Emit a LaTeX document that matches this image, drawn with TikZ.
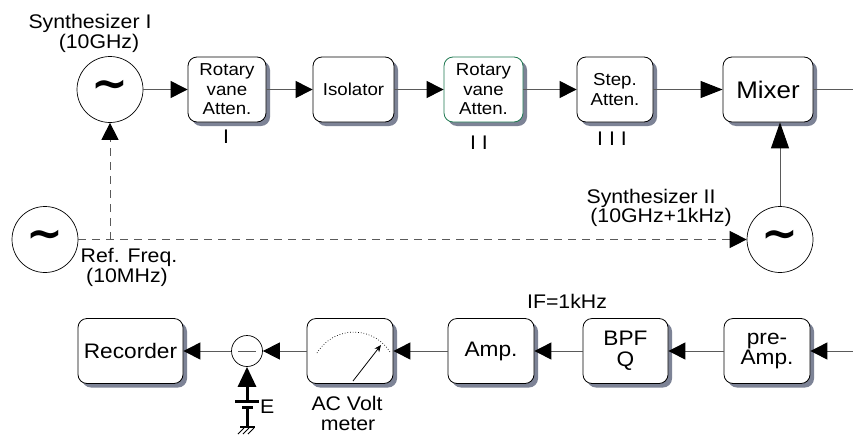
\documentclass[tikz,border=0pt]{standalone}
\usepackage{fontspec}
\setmainfont{Liberation Sans}[FakeStretch=1.08]
\newfontfamily\tildefont{DejaVu Sans}
\usetikzlibrary{arrows.meta,shadows,calc}
\definecolor{shadowc}{RGB}{125,131,150}
\definecolor{wire}{RGB}{90,90,90}
\definecolor{greenb}{RGB}{30,120,80}
\begin{document}
\begin{tikzpicture}[x=1pt,y=-1pt,
  box/.style={draw=black, line width=0.8pt, rounded corners=9pt, fill=white, align=center,
    inner sep=0pt, minimum height=65pt,
    drop shadow={shadow xshift=4pt, shadow yshift=-4pt, fill=shadowc, opacity=1},
    font=\fontsize{17.3}{19.5}\selectfont},
  bbox/.style={box, font=\fontsize{21}{20.5}\selectfont},
  osc/.style={draw, circle, line width=0.7pt, minimum size=66pt, inner sep=0pt,
    font=\tildefont\bfseries\fontsize{44}{44}\selectfont},
  lbl/.style={font=\fontsize{19.7}{21}\selectfont, inner sep=0pt, anchor=base},
  wire/.style={draw=wire, line width=1pt},
  wirearrow/.style={wire, -{Triangle[length=17pt,width=17pt,color=black,fill=black]}},
  longarrow/.style={wire, -{Triangle[length=22pt,width=17pt,color=black,fill=black]}},
  dashwire/.style={wirearrow, dash pattern=on 8pt off 6pt},
]
\useasboundingbox[fill=white] (0,0) rectangle (853,434);

% top row
\node[osc] (syn1) at (110,89.5) {\textasciitilde};
\node[lbl] (t1) at (90,28) {Synthesizer I};
\node[lbl] (t2) at (99,48) {(10GHz)};
\node[box, minimum width=78pt] (rv1) at (227,89.5) {Rotary\\vane\\Atten.};
\node[lbl] (n1) at (226,143) {I};
\node[box, minimum width=81pt] (iso) at (353.5,89.5) {Isolator};
\node[box, draw=greenb, minimum width=79pt] (rv2) at (483.5,89.5) {Rotary\\vane\\Atten.};
\node[lbl] (n2) at (479,149) {I I};
\node[box, minimum width=76pt] (stp) at (615,89.5) {Step.\\Atten.};
\node[lbl] (n3) at (612,145) {I I I};
\node[box, minimum width=90pt, font=\fontsize{24}{25}\selectfont] (mix) at (768,89.5) {Mixer};
\coordinate (mixout) at (853,89.5);

% synthesizer II and reference
\node[osc] (syn2) at (780,239.5) {\textasciitilde};
\node[lbl] (t3) at (651,203) {Synthesizer II};
\node[lbl] (t4) at (661,222) {(10GHz+1kHz)};
\node[osc] (ref) at (45,239.5) {\textasciitilde};
\node[lbl] (t5) at (129,262) {Ref. Freq.};
\node[lbl] (t6) at (127,282) {(10MHz)};

% bottom row
\coordinate (inR) at (853,351);
\node[bbox, minimum width=86pt] (pre) at (767,351) {pre-\\Amp.};
\node[bbox, minimum width=85pt] (bpf) at (625.5,351) {BPF\\Q};
\node[lbl] (t7) at (567,308) {IF=1kHz};
\node[bbox, minimum width=86pt] (amp) at (491,351) {Amp.};
\node[bbox, minimum width=86pt] (vm) at (350,351) {};
\node[lbl] (t8) at (347,410) {AC Volt};
\node[lbl] (t9) at (348,430) {meter};
\node[draw, circle, minimum size=31pt, inner sep=0pt, line width=0.7pt] (sub) at (247,351) {};
\node[bbox, minimum width=105pt] (rec) at (130.5,351) {Recorder};
\node[lbl, anchor=base west] (tE) at (260,413) {E};

% voltmeter dial
\draw[dotted, line width=0.7pt] ($(vm.center)+(-33,2)$) arc[start angle=149, end angle=31, radius=43pt];
\draw[line width=0.8pt, -{Stealth[length=7pt,width=6pt]}] ($(vm.center)+(3,30)$) -- ($(vm.center)+(31,-6)$);

% subtractor minus
\draw[wire, line width=0.8pt] ($(sub.center)+(-9,0)$) -- ($(sub.center)+(9,0)$);

% battery and ground
\coordinate (bt) at (247,401);
\draw[line width=3pt, -{Triangle[length=20pt,width=18pt]}] (bt) -- (sub.south);
\draw[line width=3pt] (235,401) -- (259,401);
\draw[line width=3.5pt] (242,407.5) -- (253,407.5);
\draw[line width=3pt] (247,407) -- (247,427);
\draw[line width=1.8pt] (240,427) -- (255,427);
\draw[line width=0.8pt] (244,428) -- (238,434) (249,428) -- (243,434) (254,428) -- (248,434);

% connectors
\draw[wirearrow] (syn1.east) -- (rv1.west);
\draw[wirearrow] (rv1.east) -- (iso.west);
\draw[wirearrow] (iso.east) -- (rv2.west);
\draw[wirearrow] (rv2.east) -- (stp.west);
\draw[longarrow] (stp.east) -- (mix.west);
\draw[wire] (mix.east) -- (mixout);
\draw[wire, -{Triangle[length=26pt,width=18pt,color=black,fill=black]}] (syn2.north) -- (syn2.north |- mix.south);
\draw[dashwire] (ref.east) -- (syn2.west);
\draw[dashwire] (syn1.south |- ref.east) -- (syn1.south);
\draw[wirearrow] (inR) -- (pre.east);
\draw[wirearrow] (pre.west) -- (bpf.east);
\draw[wirearrow] (bpf.west) -- (amp.east);
\draw[wirearrow] (amp.west) -- (vm.east);
\draw[wirearrow] (vm.west) -- (sub.east);
\draw[wirearrow] (sub.west) -- (rec.east);
\end{tikzpicture}
\end{document}
